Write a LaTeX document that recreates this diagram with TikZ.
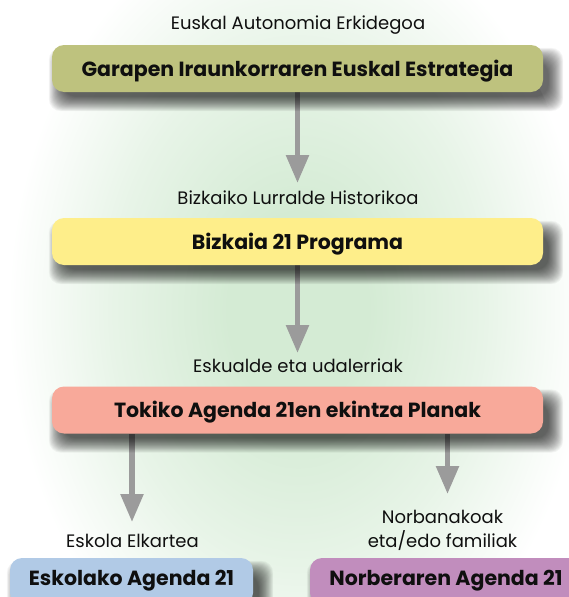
\documentclass[tikz,border=0pt]{standalone}
\usepackage{fontspec}
\setmainfont{Poppins}
\usetikzlibrary{arrows.meta}
\pgfdeclarelayer{bg}
\pgfdeclarelayer{shad}
\pgfsetlayers{bg,shad,main}
\definecolor{gcen}{RGB}{212,235,212}
\definecolor{cOlive}{RGB}{190,194,126}
\definecolor{cYellow}{RGB}{254,238,138}
\definecolor{cSalmon}{RGB}{248,169,154}
\definecolor{cBlue}{RGB}{177,202,230}
\definecolor{cPurple}{RGB}{193,141,189}
\definecolor{cArrow}{RGB}{155,155,155}
\definecolor{cText}{RGB}{15,15,15}
\pgfdeclareradialshading{glow}{\pgfpoint{0bp}{0bp}}{color(0bp)=(gcen); color(6bp)=(gcen); color(16bp)=(gcen!55!white); color(25bp)=(white); color(50bp)=(white)}
\tikzset{
  box/.style={draw=none, rounded corners=12pt, minimum height=47pt, inner sep=0pt,
    font=\fontsize{20.5}{22}\selectfont\bfseries, text=cText,
    text height=19pt, text depth=4pt},
  lowbox/.style={box, text height=11pt, text depth=4pt},
  lab/.style={font=\fontsize{18}{24}\selectfont, text=cText, inner sep=0pt, anchor=base},
  flow/.style={draw=cArrow, line width=5.5pt, -{Triangle[width=22pt,length=28pt]}},
  shadowlayer/.style={fill=black, opacity=0.04}
}
\newcommand\boxshadow[1]{%
  \foreach \k in {0,...,21}{%
    \fill[shadowlayer, rounded corners=12pt]
      ([shift={(-3+0.7*\k,3+0.7*\k)}]#1.north west) rectangle ([shift={(20-0.7*\k,19-0.7*\k)}]#1.south east);
  }%
}
\begin{document}
\begin{tikzpicture}[x=1pt,y=-1pt]
\useasboundingbox (0,0) rectangle (569,597);
\begin{scope}
\clip (0,0) rectangle (569,597);

\node[box, fill=cOlive, minimum width=491pt] (b1) at (297.5,68.5) {Garapen Iraunkorraren Euskal Estrategia};
\node[box, fill=cYellow, minimum width=491pt] (b2) at (297.5,241.5) {Bizkaia 21 Programa};
\node[box, fill=cSalmon, minimum width=491pt] (b3) at (297.5,410) {Tokiko Agenda 21en ekintza Planak};
\node[lowbox, fill=cBlue, minimum width=243pt] (b4) at (131.5,581.5) {Eskolako Agenda 21};
\node[lowbox, fill=cPurple, minimum width=272pt] (b5) at (446,581.5) {Norberaren Agenda 21};

\node[lab] (l1) at (298,29) {Euskal Autonomia Erkidegoa};
\node[lab] (l2) at (298,204) {Bizkaiko Lurralde Historikoa};
\node[lab] (l3) at (298,372) {Eskualde eta udalerriak};
\node[lab] (l4) at (132.5,547) {Eskola Elkartea};
\node[lab, align=center] (l5) at (442.5,547) {Norbanakoak\\eta/edo familiak};

\coordinate (t1) at (297.5,183);
\coordinate (t2) at (297.5,353);
\coordinate (t3) at (132,522);
\coordinate (t4) at (447.5,494);

\begin{pgfonlayer}{bg}
\shade[shading=glow] (298,310) ellipse [x radius=290, y radius=400];
\draw[flow] (b1.south) -- (t1);
\draw[flow] (b2.south) -- (t2);
\draw[flow] (b3.south -| t3) -- (t3);
\draw[flow] (b3.south -| t4) -- (t4);
\end{pgfonlayer}

\begin{pgfonlayer}{shad}
\boxshadow{b1}
\boxshadow{b2}
\boxshadow{b3}
\boxshadow{b4}
\boxshadow{b5}
\end{pgfonlayer}
\end{scope}
\end{tikzpicture}
\end{document}
